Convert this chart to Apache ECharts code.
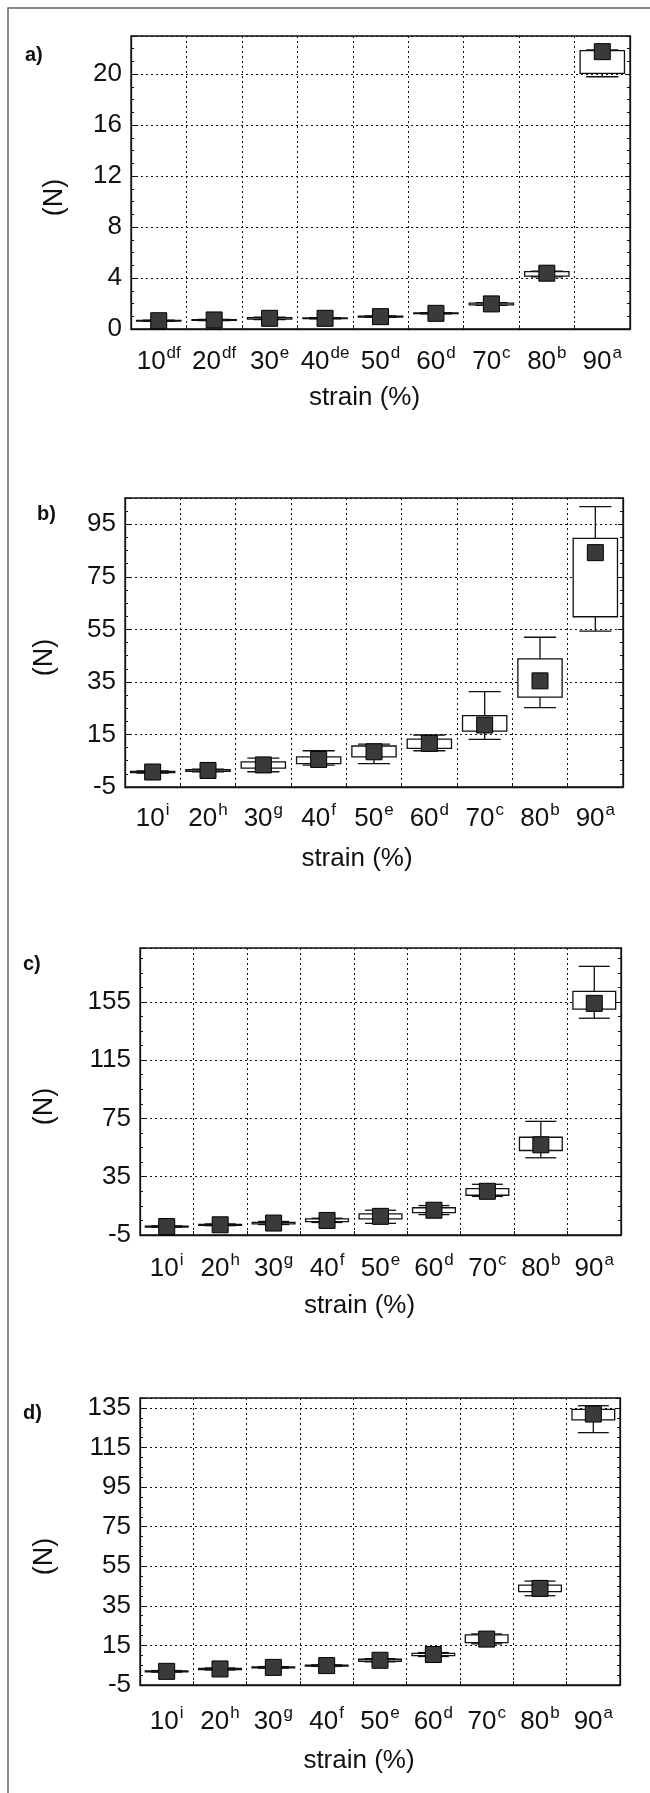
<!DOCTYPE html>
<html><head><meta charset="utf-8">
<script src="https://cdn.jsdelivr.net/npm/echarts@6/dist/echarts.min.js"></script>
<style>html,body{margin:0;padding:0;background:#fff}#c{width:650px;height:1793px}</style>
</head><body><div id="c"></div>
<script>
// ---- data ----
const strains = ['10','20','30','40','50','60','70','80','90'];
const lettersA = ['df','df','e','de','d','d','c','b','a'];
const lettersBCD = ['i','h','g','f','e','d','c','b','a'];

const meanA      = [0.65, 0.71, 0.84, 0.84, 0.97, 1.23, 1.97, 4.38, 21.77];
const boxLowA    = [0.62, 0.68, 0.78, 0.81, 0.94, 1.20, 1.90, 4.15, 20.07];
const boxHighA   = [0.68, 0.74, 0.90, 0.87, 1.00, 1.26, 2.03, 4.50, 21.85];
const whiskLowA  = [0.60, 0.66, 0.74, 0.79, 0.92, 1.18, 1.86, 4.10, 19.80];
const whiskHighA = [0.70, 0.76, 0.94, 0.89, 1.02, 1.28, 2.06, 4.55, 21.90];

const meanB      = [0.7, 1.3, 3.4, 5.5, 8.4, 11.6, 18.6, 35.4, 84.2];
const boxLowB    = [0.5, 1.0, 2.2, 3.9, 6.5, 9.7, 16.3, 29.2, 59.8];
const boxHighB   = [0.9, 1.6, 4.6, 6.5, 10.6, 13.2, 22.2, 43.8, 89.6];
const whiskLowB  = [0.3, 0.8, 0.8, 3.3, 3.9, 8.8, 13.1, 25.2, 54.3];
const whiskHighB = [1.1, 1.8, 6.0, 8.8, 11.3, 14.8, 31.3, 52.0, 101.7];

const meanC      = [0.8, 2.0, 3.2, 5.0, 7.8, 12.0, 25.0, 56.9, 154.0];
const boxLowC    = [0.5, 1.7, 2.7, 4.2, 6.0, 10.3, 22.3, 53.0, 150.0];
const boxHighC   = [1.1, 2.3, 3.7, 6.0, 9.5, 13.7, 26.9, 62.1, 162.2];
const whiskLowC  = [0.3, 1.4, 2.2, 3.6, 3.0, 9.0, 21.5, 48.0, 143.8];
const whiskHighC = [1.3, 2.6, 4.3, 6.5, 12.0, 15.2, 29.8, 73.0, 179.4];

const meanD      = [1.9, 3.1, 3.9, 4.8, 7.5, 10.4, 18.2, 43.8, 131.9];
const boxLowD    = [1.7, 2.8, 3.7, 4.6, 7.0, 9.8, 16.4, 42.2, 128.9];
const boxHighD   = [2.1, 3.4, 4.1, 5.0, 8.0, 11.0, 20.3, 45.5, 134.3];
const whiskLowD  = [1.5, 2.6, 3.5, 4.4, 6.7, 9.4, 15.8, 40.1, 122.5];
const whiskHighD = [2.3, 3.6, 4.3, 5.2, 8.3, 11.4, 20.8, 47.5, 136.1];

const yMinA = 0,  yMaxA = 23,  yStepA = 4;
const yMinB = -5, yMaxB = 105, yStepB = 20;
const yMinC = -5, yMaxC = 192, yStepC = 40;
const yMinD = -5, yMaxD = 140, yStepD = 20;

const panelLabels = ['a)','b)','c)','d)'];
const xName = 'strain (%)';
const yName = '(N)';

// ---- layout / build ----
const FONT = "'Liberation Sans', Arial, sans-serif";
const panels = [
  {letters: lettersA, mean: meanA, bl: boxLowA, bh: boxHighA, wl: whiskLowA, wh: whiskHighA,
   min: yMinA, max: yMaxA, step: yStepA, grid: {left:131, top:36, width:499, height:293},
   labelPos: {left:25, top:45}, yNameGap:63, xLabelMargin:16, xNameGap:56, xNameShift:16},
  {letters: lettersBCD, mean: meanB, bl: boxLowB, bh: boxHighB, wl: whiskLowB, wh: whiskHighB,
   min: yMinB, max: yMaxB, step: yStepB, grid: {left:125, top:498, width:498, height:289},
   labelPos: {left:37, top:504}, yNameGap:67, xLabelMargin:15, xNameGap:59, xNameShift:17},
  {letters: lettersBCD, mean: meanC, bl: boxLowC, bh: boxHighC, wl: whiskLowC, wh: whiskHighC,
   min: yMinC, max: yMaxC, step: yStepC, grid: {left:140, top:948, width:481, height:287},
   labelPos: {left:23, top:954}, yNameGap:82, xLabelMargin:17, xNameGap:58, xNameShift:21},
  {letters: lettersBCD, mean: meanD, bl: boxLowD, bh: boxHighD, wl: whiskLowD, wh: whiskHighD,
   min: yMinD, max: yMaxD, step: yStepD, grid: {left:140, top:1398, width:480, height:287},
   labelPos: {left:23, top:1403}, yNameGap:82, xLabelMargin:20, xNameGap:63, xNameShift:21}
];

function renderBox(params, api) {
  const i = api.value(0);
  const wl = api.value(1), bl = api.value(2), bh = api.value(3), wh = api.value(4);
  const band = api.size([1, 0])[0];
  const bw = band * 0.8, cw = band * 0.58;
  const pWL = api.coord([i, wl]), pBL = api.coord([i, bl]);
  const pBH = api.coord([i, bh]), pWH = api.coord([i, wh]);
  const x = pWL[0];
  const ls = {stroke: '#111', lineWidth: 1.3, fill: null};
  return {
    type: 'group',
    children: [
      {type: 'line', shape: {x1: x, y1: pWH[1], x2: x, y2: pBH[1]}, style: ls},
      {type: 'line', shape: {x1: x, y1: pBL[1], x2: x, y2: pWL[1]}, style: ls},
      {type: 'line', shape: {x1: x - cw/2, y1: pWH[1], x2: x + cw/2, y2: pWH[1]}, style: ls},
      {type: 'line', shape: {x1: x - cw/2, y1: pWL[1], x2: x + cw/2, y2: pWL[1]}, style: ls},
      {type: 'rect', shape: {x: x - bw/2, y: pBH[1], width: bw, height: Math.max(pBL[1] - pBH[1], 0.5)},
       style: {stroke: '#111', lineWidth: 1.3, fill: '#fff'}}
    ]
  };
}

const option = {
  backgroundColor: '#fff',
  animation: false,
  title: [], grid: [], xAxis: [], yAxis: [], series: [],
  graphic: [{type: 'rect', shape: {x: 8, y: 8, width: 700, height: 1850},
             style: {fill: null, stroke: '#666', lineWidth: 1.5}, silent: true}]
};

panels.forEach((p, k) => {
  option.title.push({text: panelLabels[k], left: p.labelPos.left, top: p.labelPos.top, padding: 0,
    textStyle: {fontFamily: "'Liberation Sans Narrow', " + FONT, fontWeight: 'bold', fontSize: 20, color: '#111'}});
  option.grid.push(Object.assign({show: true, borderColor: '#111', borderWidth: 1.3, backgroundColor: '#fff'}, p.grid));
  option.xAxis.push({
    type: 'category', gridIndex: k, data: strains, boundaryGap: true,
    name: xName, nameLocation: 'middle', nameGap: p.xNameGap,
    nameTextStyle: {fontFamily: FONT, fontSize: 26, color: '#111', padding: [0, 2 * p.xNameShift, 0, 0]},
    axisLine: {onZero: false, lineStyle: {color: '#111', width: 1.3}},
    axisTick: {show: true, inside: true, length: 4, lineStyle: {color: '#111'}},
    splitLine: {show: true, lineStyle: {color: '#111', type: [2, 3], width: 1}},
    axisLabel: {
      margin: p.xLabelMargin, interval: 0,
      formatter: (v, i) => '{n|' + v + '}{s|' + p.letters[i] + '}',
      rich: {
        n: {fontFamily: FONT, fontSize: 26, color: '#111', lineHeight: 30, verticalAlign: 'bottom'},
        s: {fontFamily: FONT, fontSize: 17, color: '#111', lineHeight: 30, verticalAlign: 'top', padding: [0, 0, 0, 1]}
      }
    }
  });
  const yBase = {
    type: 'value', gridIndex: k, min: p.min, max: p.max, interval: p.step,
    axisLine: {show: true, onZero: false, lineStyle: {color: '#111', width: 1.3}},
    axisTick: {show: true, inside: true, length: 5, lineStyle: {color: '#111'}},
    minorTick: {show: true, splitNumber: 4, length: 3, lineStyle: {color: '#111'}}
  };
  option.yAxis.push(Object.assign({}, yBase, {
    position: 'left',
    name: yName, nameLocation: 'middle', nameGap: p.yNameGap, nameRotate: 90,
    nameTextStyle: {fontFamily: FONT, fontSize: 27, color: '#111', padding: [0, 30, 0, 0]},
    splitLine: {show: true, lineStyle: {color: '#111', type: [2, 3], width: 1}},
    axisLabel: {fontFamily: FONT, fontSize: 26, color: '#111', margin: 9, showMaxLabel: false}
  }));
  option.yAxis.push(Object.assign({}, yBase, {
    position: 'right', axisLabel: {show: false}, splitLine: {show: false}
  }));
  const boxData = strains.map((s, i) => [i, p.wl[i], p.bl[i], p.bh[i], p.wh[i]]);
  option.series.push({
    type: 'custom', xAxisIndex: k, yAxisIndex: 2 * k, renderItem: renderBox,
    data: boxData, z: 3, encode: {x: 0, y: [1, 2, 3, 4]}
  });
  option.series.push({
    type: 'scatter', xAxisIndex: k, yAxisIndex: 2 * k, symbol: 'rect', symbolSize: 16,
    data: strains.map((s, i) => [i, p.mean[i]]), z: 4,
    itemStyle: {color: '#3a3a3a', borderColor: '#000', borderWidth: 1, opacity: 1}
  });
});

const chart = echarts.init(document.getElementById('c'), null, {renderer: 'canvas'});
chart.setOption(option);
</script></body></html>
